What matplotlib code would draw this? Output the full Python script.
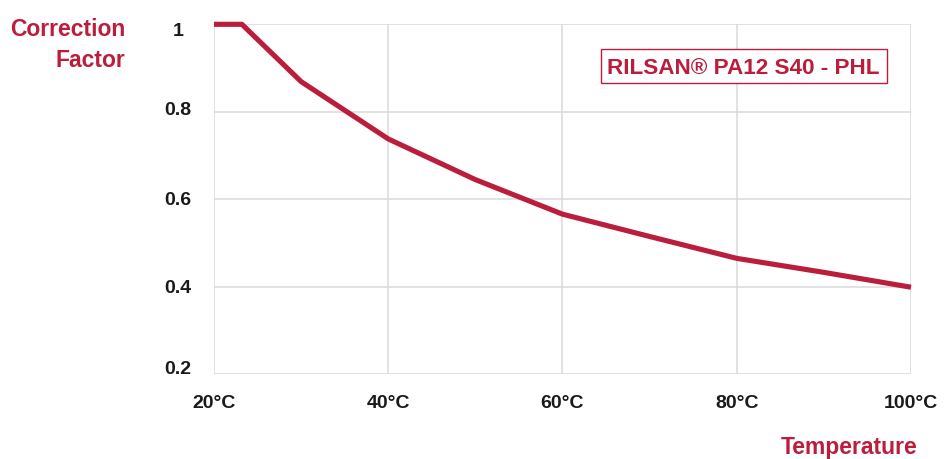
import matplotlib
matplotlib.use("Agg")
import matplotlib.pyplot as plt
import matplotlib.transforms as mtransforms
from matplotlib.ticker import FixedLocator
from matplotlib.patches import Rectangle

plt.rcParams['font.family'] = ['Liberation Sans', 'DejaVu Sans']
plt.rcParams['font.weight'] = 'bold'

temperature = [20, 23.2, 30, 40, 50, 60, 70, 80, 90, 100]
correction = [1.0, 1.0, 0.869, 0.738, 0.645, 0.566, 0.515, 0.465, 0.433, 0.399]
x_ticks = [20, 40, 60, 80, 100]
x_labels = ['20°C', '40°C', '60°C', '80°C', '100°C']
y_ticks = [0.2, 0.4, 0.6, 0.8, 1.0]
y_labels = ['0.2', '0.4', '0.6', '0.8', '1']
series_name = 'RILSAN® PA12 S40 - PHL'

RED = '#BA1E3C'
GRID = '#DADADA'
TXT = '#1A1A1A'
W, H = 953, 459

fig = plt.figure(figsize=(9.53, 4.59), dpi=100)
ax = fig.add_axes([214/W, 1-374.3/H, (911-214)/W, (374.3-24.3)/H])

ax.plot(temperature, correction, color=RED, lw=3.7, solid_capstyle='butt',
        solid_joinstyle='round', clip_on=False, zorder=3)

ax.set_xlim(20, 100)
ax.set_ylim(0.2, 1.0)
ax.xaxis.set_major_locator(FixedLocator(x_ticks))
ax.yaxis.set_major_locator(FixedLocator(y_ticks))
ax.set_xticklabels(x_labels)
ax.set_yticklabels(y_labels)
ax.grid(True, color=GRID, lw=1.1)
for s in ax.spines.values():
    s.set_visible(False)
ax.tick_params(length=0, labelsize=14, colors=TXT)
ax.tick_params(axis='y', pad=26)
ax.tick_params(axis='x', pad=15)
for lab in ax.get_xticklabels():
    lab.set_fontweight('bold')

# small vertical nudges of the end labels, as in the reference
y_nudge_px = [7, 0, 1, 3, -5]
for tick, dy in zip(ax.yaxis.get_major_ticks(), y_nudge_px):
    lab = tick.label1
    lab.set_horizontalalignment('center')
    lab.set_fontweight('bold')
    lab.set_transform(lab.get_transform() +
                      mtransforms.ScaledTranslation(0, dy / 100, fig.dpi_scale_trans))

fig.text(125/W, 1-36/H, 'Correction', ha='right', va='baseline',
         color=RED, fontsize=16.5, fontweight='bold')
fig.text(125/W, 1-67/H, 'Factor', ha='right', va='baseline',
         color=RED, fontsize=16.5, fontweight='bold')
fig.text(918/W, 1-454/H, 'Temperature', ha='right', va='baseline',
         color=RED, fontsize=16.5, fontweight='bold')

fig.patches.append(Rectangle((600.7/W, 1-83.3/H), (886.7-600.7)/W, (83.3-49.3)/H,
                             transform=fig.transFigure, facecolor='white',
                             edgecolor=RED, lw=1.0, zorder=4))
fig.text(743.5/W, 1-74.5/H, series_name, ha='center', va='baseline',
         color=RED, fontsize=16.2, fontweight='bold', zorder=5)

fig.savefig('out.png', dpi=100)
